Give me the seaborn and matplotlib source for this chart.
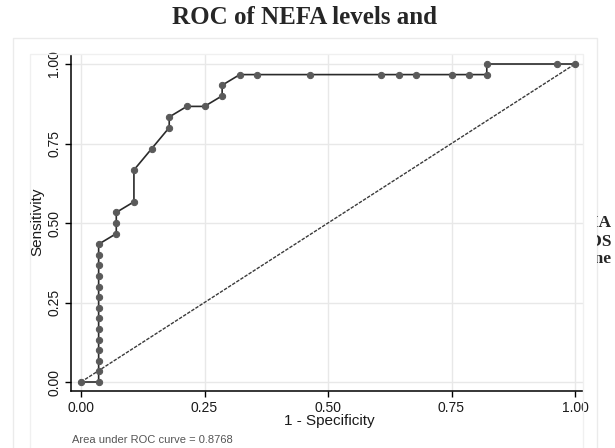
"""
ROC 曲线复刻 (Stata roctab 风格)
"""
import numpy as np
import matplotlib
matplotlib.use("Agg")
import matplotlib.pyplot as plt
from matplotlib.patches import Rectangle
from matplotlib.transforms import Bbox, TransformedBbox
import seaborn as sns

sns.set_style("white")
plt.rcParams['font.family'] = ['Liberation Sans', 'DejaVu Sans']

# 数据: 阴性/阳性累计计数
n_neg = 28
n_pos = 30
neg_count = [0, 1, 1, 1, 1, 1, 1, 1, 1, 1, 1, 1, 1, 1, 1,
             2, 2, 2, 3, 3, 4, 5, 5, 6, 7, 8, 8, 9, 10, 13,
             17, 18, 19, 21, 22, 23, 23, 27, 28]
pos_count = [0, 0, 1, 2, 3, 4, 5, 6, 7, 8, 9, 10, 11, 12, 13,
             14, 15, 16, 17, 20, 22, 24, 25, 26, 26, 27, 28, 29, 29, 29,
             29, 29, 29, 29, 29, 29, 30, 30, 30]
auc = 0.8768
ticks = [0.0, 0.25, 0.5, 0.75, 1.0]
tick_labels = ["0.00", "0.25", "0.50", "0.75", "1.00"]

fpr = np.array(neg_count) / n_neg
tpr = np.array(pos_count) / n_pos

W, H = 615, 448
fig = plt.figure(figsize=(W / 100, H / 100), dpi=100)

# 外框与绘图区框
fig.add_artist(Rectangle((13 / W, -0.01), (597 - 13) / W, (448 - 38) / H + 0.01,
                         transform=fig.transFigure, fill=False,
                         edgecolor='#ebebeb', linewidth=1))
fig.add_artist(Rectangle((30 / W, -0.01), (583 - 30) / W, (448 - 54) / H + 0.01,
                         transform=fig.transFigure, fill=False,
                         edgecolor='#f0f0f0', linewidth=1))

ax = fig.add_axes([71 / W, (448 - 391) / H, (583 - 71) / W, (391 - 55) / H])
ax.set_facecolor('none')
ax.set_xlim(-10 / 494, 502 / 494)
ax.set_ylim(-9 / 318, 327 / 318)

ax.grid(True, color='#e8e8e8', linewidth=1)
ax.set_axisbelow(True)

# 参考线
sns.lineplot(x=[0, 1], y=[0, 1], ax=ax, color='#3a3a3a', linewidth=1.0,
             linestyle=(0, (2.5, 1)), estimator=None)
# ROC 曲线
sns.lineplot(x=fpr, y=tpr, ax=ax, sort=False, estimator=None,
             color='#2a2a2a', linewidth=1.2, marker='o', markersize=4.5,
             markerfacecolor='#5a5a5a', markeredgecolor='#5a5a5a')

for side in ['top', 'right']:
    ax.spines[side].set_visible(False)
for side in ['left', 'bottom']:
    ax.spines[side].set_color('black')
    ax.spines[side].set_linewidth(1.1)

ax.set_xticks(ticks)
ax.set_yticks(ticks)
ax.set_xticklabels(tick_labels)
ax.set_yticklabels(tick_labels, rotation=90, va='center')
ax.tick_params(axis='both', direction='out', length=4, width=1, color='black',
               labelsize=10, labelcolor='#1a1a1a', pad=3, left=True, bottom=True)
ax.set_xlabel("")
ax.set_ylabel("")

fig.text(329 / W, 1 - 421 / H, "1 - Specificity", ha='center', va='center',
         fontsize=11, color='#1a1a1a')
fig.text(37 / W, 1 - 222 / H, "Sensitivity", ha='center', va='center',
         rotation=90, fontsize=11, color='#1a1a1a')
fig.text(72 / W, 1 - 440 / H, f"Area under ROC curve = {auc:.4f}",
         ha='left', va='center', fontsize=8, color='#555555')

# 标题与被裁切的正文
fig.text(304 / W, 1 - 18 / H, "ROC of NEFA levels and", ha='center', va='center',
         fontsize=18, fontweight='bold', family=['Liberation Serif', 'DejaVu Serif'])
clip = TransformedBbox(Bbox([[597 / W, 0], [1, 1]]), fig.transFigure)
for txt, yy in [("HOMA", 223), ("PCOS", 242), ("one", 259)]:
    t = fig.text(612 / W, 1 - yy / H, txt, ha='right', va='center',
                 fontsize=12.5, fontweight='bold',
                 family=['Liberation Serif', 'DejaVu Serif'])
    t.set_clip_box(clip)
    t.set_clip_on(True)

fig.savefig("out.png", dpi=100)
plt.close(fig)
